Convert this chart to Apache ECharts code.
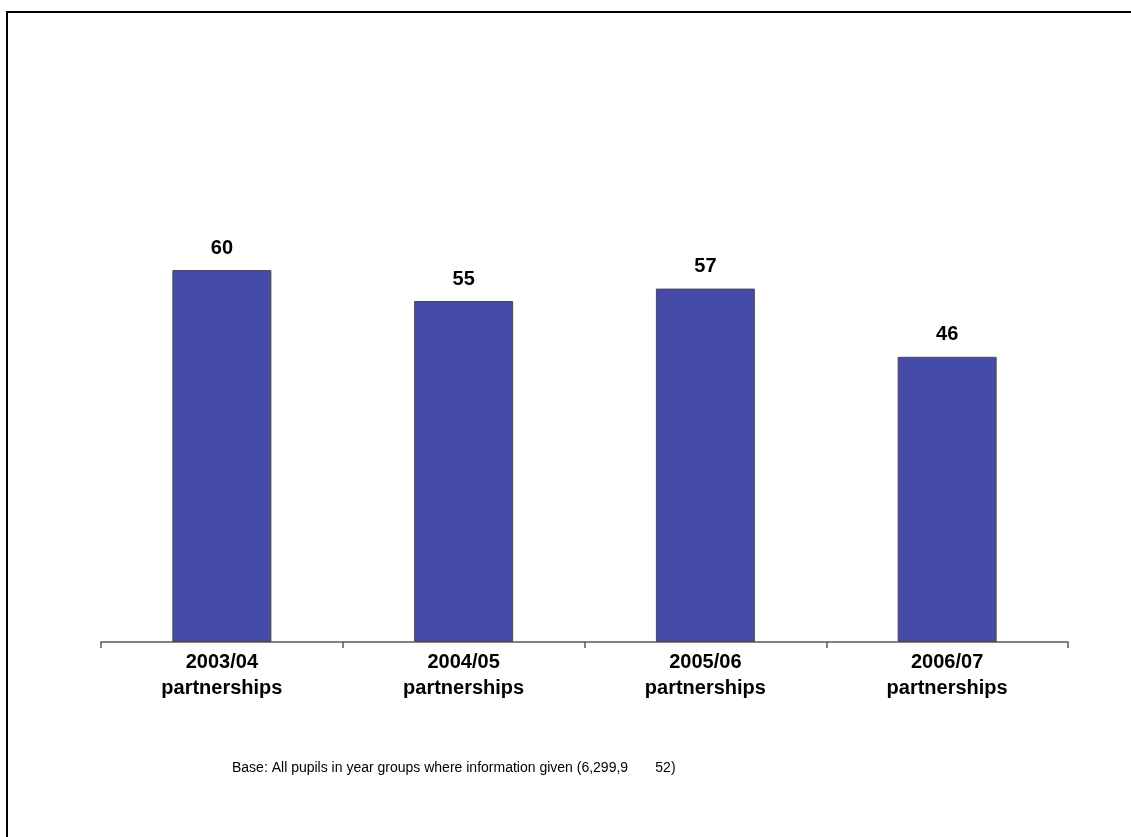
<!DOCTYPE html>
<html>
<head>
<meta charset="utf-8">
<script src="https://cdn.jsdelivr.net/npm/echarts@6/dist/echarts.min.js"></script>
<style>
html,body{margin:0;padding:0;background:#fff;}
#chart{width:1131px;height:837px;}
</style>
</head>
<body>
<div id="chart"></div>
<script>
const categories = ['2003/04\npartnerships', '2004/05\npartnerships', '2005/06\npartnerships', '2006/07\npartnerships'];
const values = [60, 55, 57, 46];
const footnote = 'Base: All pupils in year groups where information given (6,299,9       52)';

const chart = echarts.init(document.getElementById('chart'));
const font = '"Liberation Sans", Arial, sans-serif';
chart.setOption({
  animation: false,
  backgroundColor: '#ffffff',
  grid: { left: 101, right: 63, top: 22, bottom: 195 },
  xAxis: {
    type: 'category',
    data: categories,
    axisLine: { show: true, lineStyle: { color: '#5a5a5a', width: 1.5 } },
    axisTick: { show: true, length: 6, lineStyle: { color: '#5a5a5a', width: 1.5 } },
    axisLabel: { color: '#000', fontFamily: font, fontWeight: 'bold', fontSize: 20, lineHeight: 26, margin: 7 }
  },
  yAxis: { type: 'value', min: 0, max: 100, show: false, splitLine: { show: false } },
  series: [{
    type: 'bar',
    data: values,
    barWidth: 99,
    itemStyle: { color: '#4549A8', borderColor: '#4a4a4a', borderWidth: 1 },
    label: { show: true, position: 'top', distance: 12, color: '#000', fontFamily: font, fontWeight: 'bold', fontSize: 20 }
  }],
  graphic: [
    { type: 'rect', shape: { x: 7, y: 12, width: 1300, height: 1000 }, style: { fill: 'none', stroke: '#000', lineWidth: 2 }, silent: true },
    { type: 'text', left: 232, top: 761, style: { text: footnote, fill: '#000', font: '14px "Liberation Sans", Arial, sans-serif' } }
  ]
});
</script>
</body>
</html>
